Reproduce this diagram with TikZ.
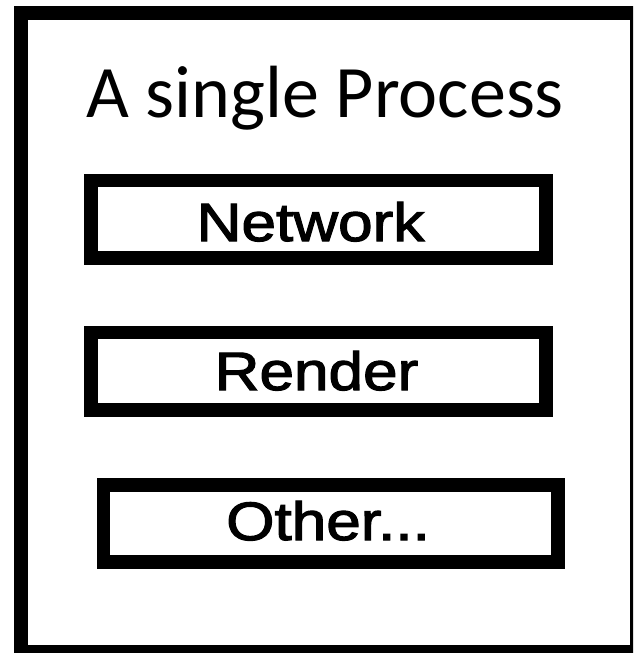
\documentclass[tikz,border=0pt]{standalone}
\usepackage{fontspec}
\newfontfamily\titlefont{Carlito}
\newfontfamily\boxfont[FakeStretch=1.15,FakeBold=2.2]{Liberation Sans}
\begin{document}
\begin{tikzpicture}[x=1pt,y=-1pt,
  outerbox/.style={draw=black,line width=14pt},
  innerbox/.style={draw=black,line width=13.5pt},
  boxtext/.style={anchor=base,inner sep=0pt,font=\boxfont\fontsize{54}{60}\selectfont},
  titletext/.style={anchor=base,inner sep=0pt,font=\titlefont\fontsize{74}{80}\selectfont}]
\useasboundingbox (0,0) rectangle (633,653);
\clip (0,0) rectangle (633,653);
\fill[white] (0,0) rectangle (633,653);
\draw[outerbox] (21,13) rectangle (637,652);
\node[titletext] (title) at (325,117) {A single Process};
\draw[innerbox] (91,180.5) rectangle (546,258);
\node[boxtext] (network) at (310.5,241) {Network};
\draw[innerbox] (91,332.5) rectangle (546,410);
\node[boxtext] (render) at (316.5,390) {Render};
\draw[innerbox] (103.3,485) rectangle (558,562);
\node[boxtext] (other) at (328,540) {Other...};
\end{tikzpicture}
\end{document}
